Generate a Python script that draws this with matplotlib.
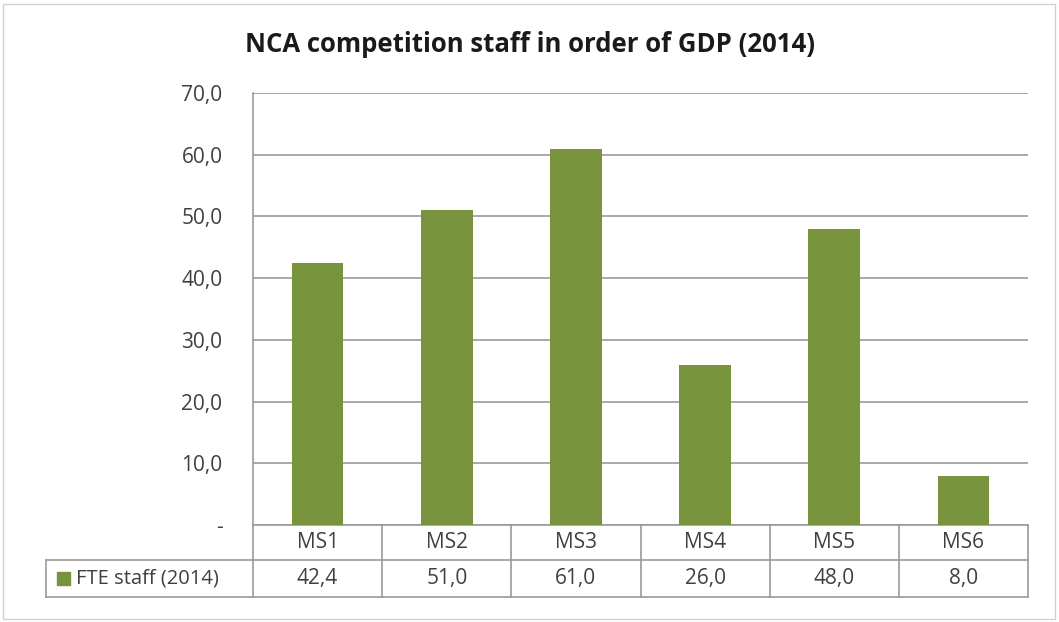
import numpy as np
import matplotlib.pyplot as plt
from matplotlib.patches import Rectangle

categories = ["MS1", "MS2", "MS3", "MS4", "MS5", "MS6"]
fte_staff = [42.4, 51.0, 61.0, 26.0, 48.0, 8.0]
series_name = "FTE staff (2014)"
y_ticks = [0, 10, 20, 30, 40, 50, 60, 70]

green = "#77933C"
grid_col = "#9a9a9a"
text_col = "#404040"

plt.rcParams['font.family'] = ['Open Sans', 'DejaVu Sans']

W, H = 1059, 622
fig = plt.figure(figsize=(W / 100, H / 100), dpi=100)

# plot area in pixel coordinates
px_left, px_right, px_top, px_bottom = 253, 1028, 93, 525
ax = fig.add_axes([px_left / W, 1 - px_bottom / H,
                   (px_right - px_left) / W, (px_bottom - px_top) / H])

x = np.arange(len(categories))
ax.bar(x, fte_staff, width=0.4, color=green, zorder=3)

ax.set_xlim(-0.5, len(categories) - 0.5)
ax.set_ylim(0, 70)
ax.set_yticks(y_ticks)
ax.set_yticklabels(["-" if v == 0 else f"{v:.1f}".replace(".", ",") for v in y_ticks])
ax.tick_params(axis='y', length=0, pad=22, labelsize=15, labelcolor=text_col)
ax.set_xticks([])
ax.yaxis.grid(True, color=grid_col, linewidth=1.2, zorder=0)
for s in ["top", "right", "bottom"]:
    ax.spines[s].set_visible(False)
ax.spines["left"].set_color(grid_col)
ax.spines["left"].set_linewidth(1.2)

# data table under the plot
ph = px_bottom - px_top
pw = px_right - px_left
row1 = 35 / ph
row2 = 37 / ph
legend_x0 = (46 - px_left) / pw
n = len(categories)
line_kw = dict(transform=ax.transAxes, color=grid_col, linewidth=1.2, clip_on=False)

ax.plot([0, 1], [0, 0], **line_kw)
ax.plot([0, 1], [-row1, -row1], **line_kw)
ax.plot([legend_x0, 0], [-row1, -row1], **line_kw)
ax.plot([legend_x0, 1], [-row1 - row2, -row1 - row2], **line_kw)
ax.plot([legend_x0, legend_x0], [-row1, -row1 - row2], **line_kw)
ax.plot([0, 0], [0, -row1 - row2], **line_kw)
for i in range(1, n + 1):
    xf = i / n
    ax.plot([xf, xf], [0, -row1 - row2], **line_kw)

for i, (cat, val) in enumerate(zip(categories, fte_staff)):
    xc = (i + 0.5) / n
    ax.text(xc, -row1 / 2, cat, transform=ax.transAxes, ha='center', va='center',
            fontsize=15, color=text_col)
    ax.text(xc, -row1 - row2 / 2, f"{val:.1f}".replace(".", ","), transform=ax.transAxes,
            ha='center', va='center', fontsize=15, color=text_col)

# legend key inside the table
key_w = 13 / pw
key_h = 13 / ph
key_x = (57 - px_left) / pw
ax.add_patch(Rectangle((key_x, -row1 - row2 / 2 - key_h / 2), key_w, key_h,
                       transform=ax.transAxes, color=green, clip_on=False))
ax.text(key_x + key_w + 6 / pw, -row1 - row2 / 2, series_name,
        transform=ax.transAxes, ha='left', va='center', fontsize=14.5, color=text_col)

fig.text(530 / W, 1 - 45 / H, "NCA competition staff in order of GDP (2014)",
         ha='center', va='center', fontsize=18.5, fontweight='bold', color='#1a1a1a')

# chart border
fig.patches.append(Rectangle((3 / W, 3 / H), (W - 7) / W, (H - 7) / H,
                             transform=fig.transFigure, fill=False,
                             edgecolor='#d0d0d0', linewidth=1))

fig.savefig("out.png", dpi=100)
